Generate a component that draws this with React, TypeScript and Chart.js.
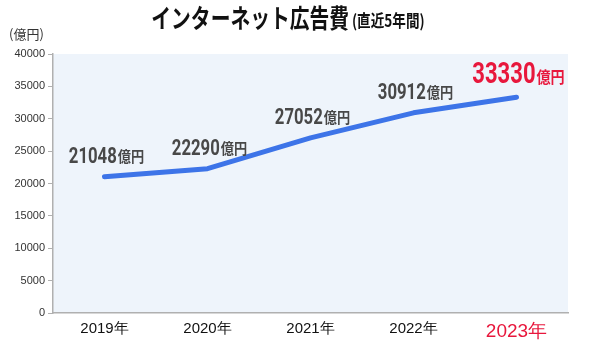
import React, { useEffect, useRef } from "react";
import { Chart, registerables } from "chart.js";

Chart.register(...registerables);

const categories = ["2019年", "2020年", "2021年", "2022年", "2023年"];
const values = [21048, 22290, 27052, 30912, 33330];
const unitLabel = "億円";
const yAxisUnit = "(億円)";
const titleMain = "インターネット広告費";
const titleSub = "(直近5年間)";
const highlightIndex = 4;
const yMax = 40000;
const yStep = 5000;

const RED = "#E8173C";
const GRAY = "#484848";
const LINE = "#3D74E8";
const BG = "#EEF4FB";

function drawScaled(
  ctx: CanvasRenderingContext2D,
  text: string,
  x: number,
  y: number,
  font: string,
  sx: number,
  color: string
) {
  ctx.save();
  ctx.font = font;
  ctx.fillStyle = color;
  ctx.textAlign = "left";
  ctx.textBaseline = "alphabetic";
  ctx.translate(x, y);
  ctx.scale(sx, 1);
  ctx.fillText(text, 0, 0);
  ctx.restore();
}

function measureScaled(ctx: CanvasRenderingContext2D, text: string, font: string, sx: number) {
  ctx.save();
  ctx.font = font;
  const w = ctx.measureText(text).width * sx;
  ctx.restore();
  return w;
}

const bgPlugin = {
  id: "bgPlugin",
  beforeDraw(chart: any) {
    const { ctx, chartArea } = chart;
    ctx.save();
    ctx.fillStyle = "#ffffff";
    ctx.fillRect(0, 0, chart.width, chart.height);
    ctx.fillStyle = BG;
    ctx.fillRect(chartArea.left, chartArea.top, chartArea.right - chartArea.left, chartArea.bottom - chartArea.top);
    ctx.restore();
  },
};

const textPlugin = {
  id: "textPlugin",
  afterDraw(chart: any) {
    const ctx: CanvasRenderingContext2D = chart.ctx;
    // Title
    const tFont = "bold 26px 'Noto Sans CJK JP', sans-serif";
    const sFont = "bold 17px 'Noto Sans CJK JP', sans-serif";
    const tSx = 0.76;
    const sSx = 0.8;
    const tw = measureScaled(ctx, titleMain, tFont, tSx);
    const sw = measureScaled(ctx, titleSub, sFont, sSx);
    const total = tw + 3 + sw;
    const cx = 288;
    const x0 = cx - total / 2;
    drawScaled(ctx, titleMain, x0, 28, tFont, tSx, "#111111");
    drawScaled(ctx, titleSub, x0 + tw + 3, 27, sFont, sSx, "#111111");
    // y unit
    drawScaled(ctx, yAxisUnit, 9, 39, "13px 'Noto Sans CJK JP', sans-serif", 1, "#333333");

    // data labels
    const meta = chart.getDatasetMeta(0);
    meta.data.forEach((pt: any, i: number) => {
      const hi = i === highlightIndex;
      const num = String(values[i]);
      const nFont = hi ? "bold 29px Roboto, sans-serif" : "bold 22px Roboto, sans-serif";
      const uFont = hi ? "bold 16px 'Noto Sans CJK JP', sans-serif" : "bold 15px 'Noto Sans CJK JP', sans-serif";
      const nSx = 0.76;
      const uSx = 0.88;
      const nw = measureScaled(ctx, num, nFont, nSx);
      const uw = measureScaled(ctx, unitLabel, uFont, uSx);
      const w = nw + 1 + uw;
      const left = pt.x + 2 - w / 2;
      const base = pt.y - 14;
      const col = hi ? RED : GRAY;
      drawScaled(ctx, num, left, base, nFont, nSx, col);
      drawScaled(ctx, unitLabel, left + nw + 1, base - 0.5, uFont, uSx, col);
    });
  },
};

export default function App() {
  const ref = useRef<HTMLCanvasElement | null>(null);
  useEffect(() => {
    document.body.style.margin = "0";
    const canvas = ref.current!;
    const chart = new Chart(canvas, {
      type: "line",
      data: {
        labels: categories,
        datasets: [
          {
            data: values,
            borderColor: LINE,
            borderWidth: 5,
            borderCapStyle: "round",
            borderJoinStyle: "round",
            pointRadius: 0,
            tension: 0,
            fill: false,
          },
        ],
      },
      options: {
        animation: false,
        responsive: false,
        devicePixelRatio: 1,
        layout: { padding: { top: 54, right: 22, bottom: 0, left: 0 } },
        plugins: {
          legend: { display: false },
          title: { display: false },
          tooltip: { enabled: false },
        },
        scales: {
          x: {
            type: "category",
            offset: true,
            grid: { display: true, drawOnChartArea: false, drawTicks: false, color: "#b0b0b0" },
            border: { display: true, color: "#b0b0b0", width: 1.5 },
            ticks: {
              padding: 7,
              color: (c: any) => (c.index === highlightIndex ? RED : "#111111"),
              font: (c: any) => ({
                family: "'Liberation Sans', Arial, sans-serif",
                size: c.index === highlightIndex ? 19 : 15,
              }),
            },
            afterFit: (s: any) => {
              s.height = 40;
            },
          },
          y: {
            min: 0,
            max: yMax,
            ticks: {
              stepSize: yStep,
              padding: 3,
              color: "#333333",
              font: { family: "'Liberation Sans', Arial, sans-serif", size: 11 },
              callback: (v: any) => String(v),
            },
            grid: { display: true, drawOnChartArea: false, drawTicks: true, tickLength: 5, color: "#b0b0b0" },
            border: { display: true, color: "#b0b0b0", width: 1.5 },
            afterFit: (s: any) => {
              s.width = 53;
            },
          },
        },
      },
      plugins: [bgPlugin, textPlugin],
    } as any);
    return () => chart.destroy();
  }, []);
  return (
    <div style={{ position: "absolute", left: 0, top: 0, width: 590, height: 353 }}>
      <canvas ref={ref} width={590} height={353} />
    </div>
  );
}
